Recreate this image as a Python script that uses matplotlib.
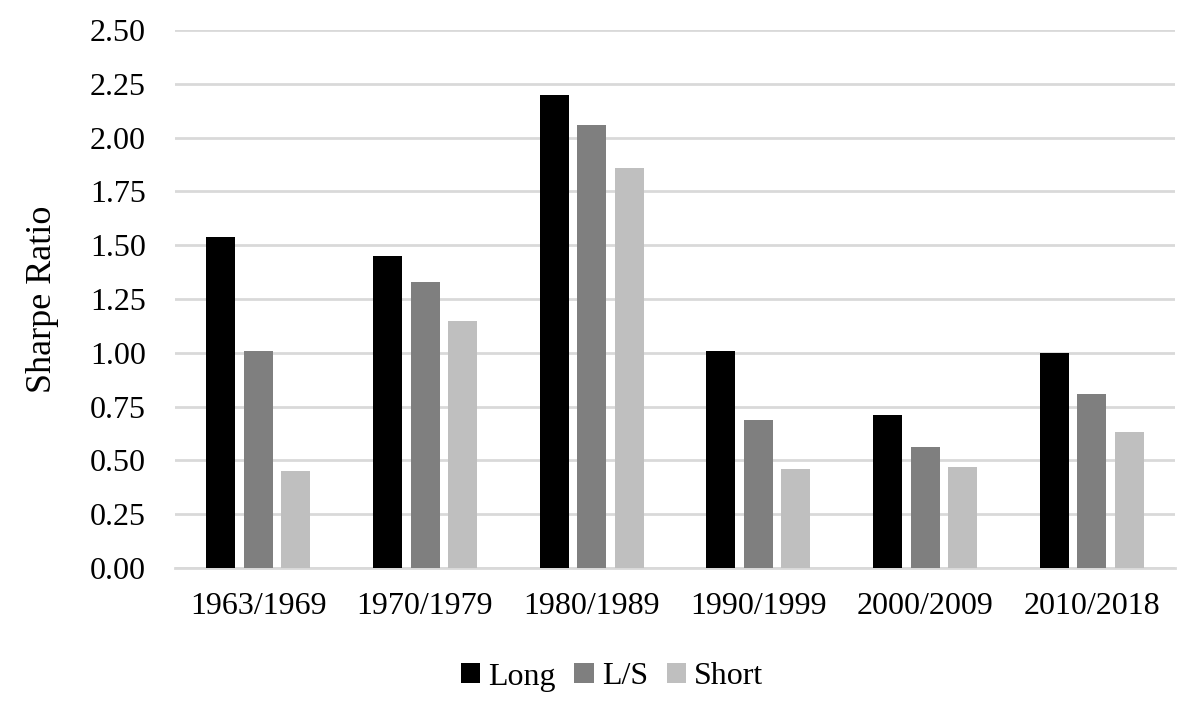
import numpy as np
import matplotlib
matplotlib.use('Agg')
import matplotlib.pyplot as plt

# Sharpe ratios by decade
periods = ['1963/1969', '1970/1979', '1980/1989', '1990/1999', '2000/2009', '2010/2018']
long_sr = [1.54, 1.45, 2.20, 1.01, 0.71, 1.00]
ls_sr = [1.01, 1.33, 2.06, 0.69, 0.56, 0.81]
short_sr = [0.45, 1.15, 1.86, 0.46, 0.47, 0.63]
series_names = ['Long', 'L/S', 'Short']
yticks = np.arange(0, 2.51, 0.25)

plt.rcParams['font.family'] = ['Liberation Serif', 'DejaVu Serif']

fig = plt.figure(figsize=(12, 7.01), dpi=100)
ax = fig.add_axes([175/1200, 1-568/701, 1000/1200, 538/701])

x = np.arange(len(periods))
w = 0.174
step = 0.225
colors = ['#000000', '#7f7f7f', '#bfbfbf']
for i, (vals, name) in enumerate(zip([long_sr, ls_sr, short_sr], series_names)):
    ax.bar(x + (i - 1) * step, vals, width=w, color=colors[i], label=name, zorder=3)

ax.set_xlim(-0.5, len(periods) - 0.5)
ax.set_ylim(0, 2.5)
ax.set_yticks(yticks)
ax.set_yticklabels(['%.2f' % t for t in yticks], fontsize=23)
ax.set_xticks(x)
ax.set_xticklabels(periods, fontsize=23)
ax.tick_params(axis='both', length=0)
ax.tick_params(axis='y', pad=21)
ax.tick_params(axis='x', pad=17)
ax.grid(axis='y', color='#d9d9d9', linewidth=2, zorder=0)
for s in ['top', 'right', 'left']:
    ax.spines[s].set_visible(False)
ax.spines['bottom'].set_color('#d9d9d9')
ax.spines['bottom'].set_linewidth(2)
ax.set_ylabel('Sharpe Ratio', fontsize=26, labelpad=22)

fig.legend(loc='center', bbox_to_anchor=(0.51, 1-677/701), ncol=3, frameon=False,
           fontsize=23, handlelength=0.6, handleheight=0.6, handletextpad=0.25,
           columnspacing=0.6)

plt.savefig('out.png', dpi=100)
